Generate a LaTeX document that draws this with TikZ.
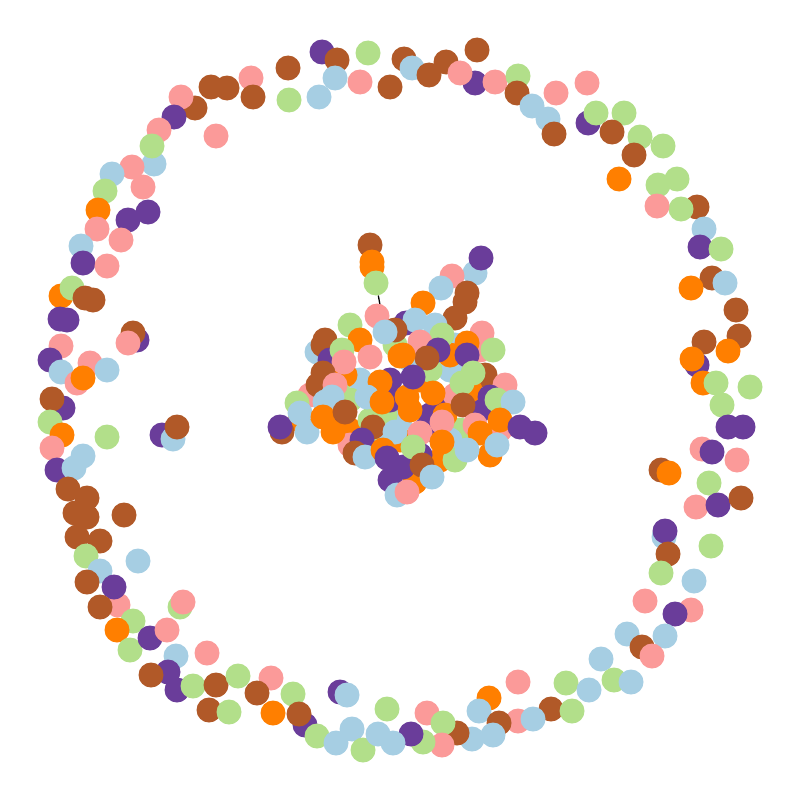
\documentclass[tikz,border=0pt]{standalone}
\usetikzlibrary{backgrounds}
\definecolor{cB}{HTML}{A6CEE3}
\definecolor{cG}{HTML}{B2DF8A}
\definecolor{cP}{HTML}{FB9A99}
\definecolor{cO}{HTML}{FF7F00}
\definecolor{cV}{HTML}{6A3D9A}
\definecolor{cR}{HTML}{B15928}
\begin{document}
\begin{tikzpicture}[x=1pt,y=-1pt,
  dot/.style={circle,inner sep=0pt,minimum size=25pt,draw=none},
  edgeline/.style={draw=black,line width=1.3pt}]
\useasboundingbox (0,0) rectangle (800,800);
% outer ring
\foreach \x/\y/\c [count=\i] in {
288/68/cR,289/100/cG,322/52/cV,337/60/cR,368/53/cG,335/78/cB,360/82/cP,390/87/cR,319/97/cB,
251/78/cP,253/97/cR,211/87/cR,227/88/cR,195/108/cR,181/97/cP,174/117/cV,159/130/cP,154/164/cB,152/146/cG,
216/136/cP,132/167/cP,112/174/cB,105/191/cG,143/187/cP,98/210/cO,128/220/cV,148/212/cV,97/229/cP,
121/240/cP,81/246/cB,83/263/cV,107/266/cP,61/296/cO,72/288/cG,85/298/cR,93/300/cR,60/319/cV,67/320/cV,
137/340/cV,133/333/cR,128/343/cP,61/346/cP,50/360/cV,61/372/cB,90/363/cP,77/383/cP,107/370/cB,83/378/cO,
63/408/cV,52/399/cR,
404/59/cR,412/68/cB,446/62/cR,429/75/cR,477/50/cR,475/83/cV,460/73/cP,495/82/cP,518/76/cG,517/93/cR,
532/106/cB,548/119/cB,554/134/cR,556/93/cP,587/83/cP,588/123/cV,596/113/cG,624/113/cG,612/132/cR,
640/137/cG,663/146/cG,634/155/cR,619/179/cO,658/185/cG,677/179/cG,697/207/cR,681/209/cG,657/206/cP,
704/229/cB,700/247/cV,721/249/cG,712/278/cR,725/283/cB,691/288/cO,736/310/cR,739/336/cR,704/342/cR,
728/351/cO,697/365/cV,692/359/cO,703/383/cO,716/383/cG,750/387/cG,
722/405/cG,728/427/cV,743/427/cV,702/449/cP,712/452/cV,737/460/cP,661/470/cR,669/473/cO,709/483/cG,
696/507/cP,718/505/cV,741/498/cR,664/537/cB,665/531/cV,668/554/cR,711/546/cG,661/573/cG,694/581/cB,
645/601/cP,691/610/cP,675/614/cV,627/634/cB,665/636/cB,642/647/cR,652/656/cP,601/659/cB,566/683/cG,
589/690/cB,614/680/cG,631/682/cB,518/682/cP,489/698/cO,479/711/cB,551/709/cR,572/711/cG,518/721/cP,
533/719/cB,499/723/cR,493/735/cB,472/739/cB,457/733/cR,427/713/cP,443/723/cG,442/745/cP,423/742/cG,
411/734/cV,
50/422/cG,62/435/cO,107/437/cG,52/448/cP,83/456/cB,57/470/cV,74/468/cB,68/489/cR,87/498/cR,75/513/cR,
87/517/cR,124/515/cR,77/537/cR,100/541/cR,86/556/cG,100/571/cB,87/582/cR,118/605/cP,114/587/cV,138/561/cB,
100/607/cR,133/621/cG,117/630/cO,130/650/cG,150/638/cV,167/630/cP,180/607/cG,183/602/cP,176/656/cB,
207/653/cP,168/672/cV,151/675/cR,177/690/cV,193/686/cG,216/685/cR,238/676/cG,271/678/cP,257/693/cR,
209/710/cR,229/712/cG,273/713/cO,293/694/cG,305/725/cV,299/714/cR,317/736/cG,336/743/cB,352/729/cB,
363/750/cG,378/734/cB,393/743/cB,387/709/cG,340/692/cV,347/695/cB,
162/435/cV,173/439/cB,177/427/cR}
{\node[dot,fill=\c] (r\i) at (\x,\y) {};}
% central cluster, lower layer
\foreach \x/\y/\c [count=\i] in {
370/245/cR,372/262/cO,372/267/cO,475/273/cB,481/258/cV,452/276/cP,441/288/cB,467/293/cR,465/302/cR,
423/303/cO,455/318/cR,406/323/cV,377/316/cP,350/325/cG,317/352/cB,325/340/cR,323/345/cR,
390/380/cV,420/380/cO,400/420/cB,440/400/cV,450/370/cB,360/380/cB,350/400/cG,385/415/cG,430/415/cV,
455/395/cP,395/345/cG,415/320/cB,380/440/cB,440/460/cO,460/430/cG,350/430/cO,395/470/cP,420/455/cV,
480/410/cV,335/410/cV,310/395/cP,370/420/cG,425/430/cV,450/440/cB,400/440/cO,390/400/cV,430/370/cG,
360/340/cO,410/360/cB,300/420/cO,
330/360/cV,318/385/cR,345/375/cO,455/345/cB,480/350/cP,485/375/cR,505/385/cP,470/390/cO,
450/355/cO,435/325/cB,395/330/cR,445/415/cO,375/450/cG,350/445/cP,415/482/cO,390/480/cV,
500/430/cP,490/455/cO,455/460/cG,340/395/cG,325/402/cB}
{\node[dot,fill=\c] (c\i) at (\x,\y) {};}
% linked pair
\node[dot,fill=cG] (gtop) at (376,283) {};
\node[dot,fill=cB] (bmid) at (385,332) {};
\begin{scope}[on background layer]
\draw[edgeline] (gtop) -- (bmid);
\end{scope}
% central cluster, upper layer
\foreach \x/\y/\c [count=\i] in {
482/333/cP,493/350/cG,442/335/cG,420/342/cP,467/343/cO,438/350/cV,467/355/cV,427/358/cR,403/355/cO,
342/350/cG,344/362/cP,370/357/cP,400/356/cO,323/373/cR,335/385/cP,332/397/cB,380/382/cO,367/397/cB,
382/402/cO,297/403/cG,407/397/cO,473/373/cG,462/383/cG,413/377/cV,433/393/cO,463/405/cR,490/397/cV,
497/400/cG,513/402/cB,282/432/cR,280/427/cV,300/413/cB,307/432/cB,323/417/cO,333/432/cO,345/412/cR,
373/427/cR,395/432/cB,362/440/cV,355/453/cR,365/457/cB,383/450/cO,387/458/cV,403/467/cV,397/495/cB,
407/492/cP,500/420/cO,520/427/cV,535/433/cV,475/425/cP,480/433/cO,442/422/cP,410/410/cO,420/433/cP,
442/442/cO,467/450/cB,497/445/cB,413/447/cG,422/465/cR,432/477/cB}
{\node[dot,fill=\c] (u\i) at (\x,\y) {};}
\end{tikzpicture}
\end{document}
